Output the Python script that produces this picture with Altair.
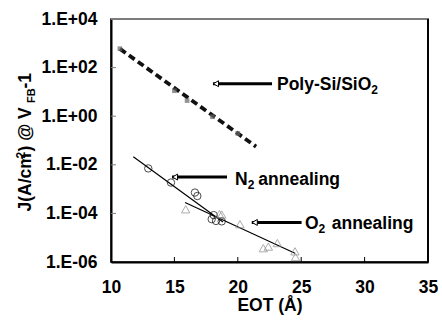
import altair as alt
import pandas as pd

# ---- axes ----
x_ticks = [10, 15, 20, 25, 30, 35]
y_ticks = [1e-6, 1e-4, 1e-2, 1.0, 1e2, 1e4]
y_tick_labels = ["1.E-06", "1.E-04", "1.E-02", "1.E+00", "1.E+02", "1.E+04"]

# ---- Poly-Si/SiO2 reference ----
poly_line_eot = [10.71, 21.44]
poly_line_j = [589, 0.056]
poly_pts_eot = [10.7, 15.0, 16.0, 18.0, 20.0]
poly_pts_j = [600, 11.2, 4.4, 0.95, 0.195]

# ---- N2 annealing ----
n2_eot = [12.94, 14.73, 16.62, 16.81, 18.10, 17.94, 18.28, 18.73]
n2_j = [7.1e-3, 1.86e-3, 7.2e-4, 5.2e-4, 8.5e-5, 5.8e-5, 4.9e-5, 4.7e-5]
n2_fit_eot = [11.76, 18.83]
n2_fit_j = [0.0214, 4.4e-5]

# ---- O2 annealing ----
o2_eot = [15.89, 18.55, 18.73, 20.17, 22.01, 22.41, 23.12, 24.51, 24.55]
o2_j = [1.48e-4, 9.4e-5, 9.0e-5, 3.6e-5, 3.7e-6, 4.3e-6, 6.0e-6, 2.75e-6, 1.6e-6]
o2_fit_eot = [15.84, 24.51]
o2_fit_j = [2.8e-4, 2.3e-6]

# ---- annotations ----
arrow_head_x = [18.04, 14.81, 21.10]
arrow_tail_x = [22.70, 19.15, 25.03]
arrow_y = [21.7, 3.13e-3, 4.24e-5]

ann_text = ["Poly-Si/SiO", "2", "N", "2", "annealing", "O", "2", "annealing"]
ann_x = [23.09, 30.53, 19.78, 20.78, 21.62, 25.30, 26.37, 27.41]
ann_y = [11.5, 8.05, 1.43e-3, 9.8e-4, 1.43e-3, 2.25e-5, 1.55e-5, 2.25e-5]
ann_size = [17.5, 12, 17.5, 12, 17.5, 17.5, 12, 17.5]

FONT = "Liberation Sans"
W, H = 317, 243

xs = alt.Scale(domain=[10, 35], nice=False)
ys = alt.Scale(type="log", domain=[1e-6, 1e4], nice=False)

label_expr = " : ".join(
    f"datum.value == {v} ? '{t}'" for v, t in zip(y_ticks, y_tick_labels)
) + " : ''"

x_axis = alt.Axis(values=x_ticks, tickSize=0, labelPadding=16, labelFont=FONT,
                  labelFontSize=17.5, labelFontWeight="bold", labelColor="black",
                  labelFlush=False, labelOverlap=False,
                  domainColor="black", domainWidth=2, grid=False,
                  title="EOT (Å)", titleFont=FONT, titleFontSize=17.5,
                  titleFontWeight="bold", titleColor="black", titlePadding=1)
y_axis = alt.Axis(values=y_ticks, tickSize=0, labelPadding=14, labelFont=FONT,
                  labelFontSize=17.5, labelFontWeight="bold", labelColor="black",
                  labelFlush=False, labelOverlap=False,
                  labelExpr=label_expr, domainColor="black", domainWidth=2,
                  grid=False, title="")

df_poly_line = pd.DataFrame({"x": poly_line_eot, "y": poly_line_j})
df_poly_pts = pd.DataFrame({"x": poly_pts_eot, "y": poly_pts_j})
df_n2 = pd.DataFrame({"x": n2_eot, "y": n2_j})
df_n2_fit = pd.DataFrame({"x": n2_fit_eot, "y": n2_fit_j})
df_o2 = pd.DataFrame({"x": o2_eot, "y": o2_j})
df_o2_fit = pd.DataFrame({"x": o2_fit_eot, "y": o2_fit_j})
df_arrow = pd.DataFrame({"x": arrow_head_x, "x2": arrow_tail_x, "y": arrow_y})
df_ann = pd.DataFrame({"x": ann_x, "y": ann_y, "t": ann_text, "s": ann_size})
df_xt = pd.DataFrame({"x": x_ticks[1:-1]})
df_yt = pd.DataFrame({"y": y_ticks[1:-1]})
df_one = pd.DataFrame({"k": [0]})
df_top = pd.DataFrame({"x": [10.0, 10.0], "x2": [35.0, 35.0], "y": [1e4, 1e4]})
df_right = pd.DataFrame({"x": [35.0, 35.0], "y": [1e-6, 1e-6], "y2": [1e4, 1e4]})


def X(f="x"):
    return alt.X(f"{f}:Q", scale=xs, axis=x_axis)


def Y(f="y"):
    return alt.Y(f"{f}:Q", scale=ys, axis=y_axis)


xtick_layer = alt.Chart(df_xt).mark_rule(color="black", strokeWidth=1).encode(
    x=X(), y=alt.value(H), y2=alt.value(H - 5))
ytick_layer = alt.Chart(df_yt).mark_rule(color="#808080", strokeWidth=1).encode(
    y=Y(), x=alt.value(0), x2=alt.value(5))

poly_line = alt.Chart(df_poly_line).mark_line(
    color="#111111", strokeWidth=3.8, strokeDash=[7, 4]).encode(x=X(), y=Y())
poly_pts = alt.Chart(df_poly_pts).mark_point(
    shape="square", filled=True, color="#666666", size=22).encode(x=X(), y=Y())

n2_fit = alt.Chart(df_n2_fit).mark_line(color="black", strokeWidth=1.2).encode(x=X(), y=Y())
n2_pts = alt.Chart(df_n2).mark_point(
    shape="circle", filled=False, color="black", strokeWidth=1, size=55).encode(x=X(), y=Y())

o2_fit = alt.Chart(df_o2_fit).mark_line(color="black", strokeWidth=1.2).encode(x=X(), y=Y())
o2_pts = alt.Chart(df_o2).mark_point(
    shape="triangle-up", filled=False, color="#8a8a8a", strokeWidth=1, size=70).encode(x=X(), y=Y())

arrow_shaft = alt.Chart(df_arrow).mark_rule(color="black", strokeWidth=3).encode(
    x=X(), x2="x2:Q", y=Y())
arrow_head = alt.Chart(df_arrow).mark_point(
    shape="triangle-left", filled=True, fill="white", stroke="black", strokeWidth=1,
    size=35, xOffset=3, opacity=1).encode(x=X(), y=Y())

ann = alt.Chart(df_ann).mark_text(
    font=FONT, fontWeight="bold", color="black", align="left", baseline="alphabetic"
).encode(x=X(), y=Y(), text="t:N", size=alt.Size("s:Q", scale=None, legend=None))

# y-axis title composed of pieces (superscript / subscript)
ytitle_text = ["J(A/cm", "2", ") @ V", "FB", "-1"]
ytitle_px_x = [-80, -86, -80, -76, -80]
ytitle_px_y = [192.5, 139.5, 132.5, 84, 69.5]
ytitle_size = [17.5, 12, 17.5, 11, 17.5]
ytitle_layers = [
    alt.Chart(df_one).mark_text(
        text=t, font=FONT, fontWeight="bold", fontSize=s, color="black",
        angle=270, align="left", baseline="alphabetic"
    ).encode(x=alt.value(px), y=alt.value(py))
    for t, px, py, s in zip(ytitle_text, ytitle_px_x, ytitle_px_y, ytitle_size)
]

top_border = alt.Chart(df_top).mark_rule(color="#808080", strokeWidth=1.5).encode(
    x=alt.X("x:Q", scale=xs), x2="x2:Q", y=alt.Y("y:Q", scale=ys))
right_border = alt.Chart(df_right).mark_rule(color="black", strokeWidth=1.5).encode(
    x=alt.X("x:Q", scale=xs), y=alt.Y("y:Q", scale=ys), y2="y2:Q")

chart = alt.layer(
    xtick_layer, ytick_layer,
    poly_line, poly_pts, n2_fit, o2_fit, n2_pts, o2_pts,
    arrow_shaft, arrow_head, ann, *ytitle_layers, top_border, right_border
).properties(
    width=W, height=H,
    background="white",
    autosize=alt.AutoSizeParams(type="none"),
    padding={"left": 111, "top": 19, "right": 14, "bottom": 58},
).configure_view(stroke="black", strokeWidth=1.5)

chart.save("out.html", embed_options={"renderer": "svg", "actions": False})
